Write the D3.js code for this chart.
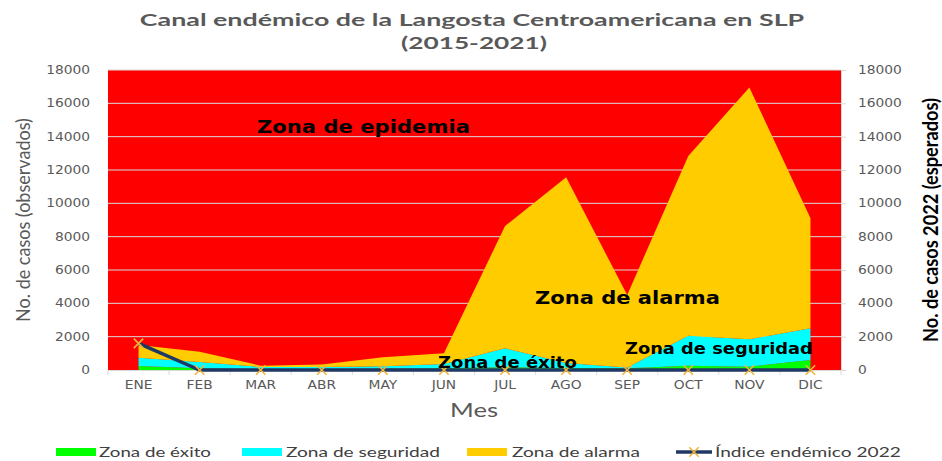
<!DOCTYPE html>
<html>
<head>
<meta charset="utf-8">
<script src="https://cdn.jsdelivr.net/npm/d3@7"></script>
<style>
  body { margin: 0; background: #fff; }
</style>
</head>
<body>
<script>

// datos del canal endemico (limite superior de cada zona, acumulado)
var meses      = ["ENE", "FEB", "MAR", "ABR", "MAY", "JUN", "JUL", "AGO", "SEP", "OCT", "NOV", "DIC"];
var exito      = [240, 110, 60, 60, 80, 100, 160, 120, 100, 250, 200, 600];
var seguridad  = [740, 480, 180, 180, 220, 360, 1300, 420, 150, 2050, 1850, 2500];
var alarma     = [1500, 1100, 260, 330, 760, 1000, 8640, 11560, 4500, 12840, 16950, 9100];
var indice2022 = [1600, 0, 0, 0, 0, 0, 0, 0, 0, 0, 0, 0];
var yTicks     = [0, 2000, 4000, 6000, 8000, 10000, 12000, 14000, 16000, 18000];

var width = 942, height = 461;
var plot = {left: 108, right: 841, top: 70, bottom: 370};

var svg = d3.select("body").append("svg")
    .attr("width", width)
    .attr("height", height);

var x = d3.scalePoint()
    .domain(meses)
    .range([plot.left, plot.right])
    .padding(0.5);

var y = d3.scaleLinear()
    .domain([0, 18000])
    .range([plot.bottom, plot.top]);

// stretch a text horizontally so that it covers w pixels
function fit(sel, w) {
  sel.each(function () {
    var n = this.getComputedTextLength();
    var t = d3.select(this).attr("data-t");
    d3.select(this).attr("transform", t + " scale(" + (w / n) + ",1)");
  });
}

function label(txt, cx, cy, opts) {
  var t = "translate(" + cx + "," + cy + ")" + (opts.rotate ? " rotate(" + opts.rotate + ")" : "");
  var el = svg.append("text")
      .attr("data-t", t)
      .attr("transform", t)
      .attr("text-anchor", opts.anchor || "middle")
      .style("font-family", opts.font || "Lato, 'Open Sans', sans-serif")
      .style("font-size", opts.size + "px")
      .style("font-weight", opts.bold ? "bold" : "normal")
      .style("fill", opts.color || "#595959")
      .text(txt);
  if (opts.w) fit(el, opts.w);
  return el;
}

// zona de epidemia = fondo del area de trazado
svg.append("rect")
    .attr("x", plot.left)
    .attr("y", plot.top)
    .attr("width", plot.right - plot.left)
    .attr("height", plot.bottom - plot.top)
    .attr("fill", "#ff0000");

svg.append("g").selectAll("line")
    .data(yTicks.slice(1))
    .enter().append("line")
    .attr("x1", plot.left).attr("x2", plot.right)
    .attr("y1", function (d) { return y(d); })
    .attr("y2", function (d) { return y(d); })
    .attr("stroke", "#d9d9d9")
    .attr("stroke-width", 1);

// bandas apiladas
var bandas = [
  {lo: null, hi: exito, color: "#00ff00"},
  {lo: exito, hi: seguridad, color: "#00ffff"},
  {lo: seguridad, hi: alarma, color: "#ffcc00"}
];

bandas.forEach(function (b) {
  var area = d3.area()
      .x(function (d, i) { return x(meses[i]); })
      .y0(function (d, i) { return y(b.lo ? b.lo[i] : 0); })
      .y1(function (d) { return y(d); });
  svg.append("path")
      .datum(b.hi)
      .attr("d", area)
      .attr("fill", b.color);
});

// eje x
var step = x.step();
svg.append("line")
    .attr("x1", plot.left).attr("x2", plot.right)
    .attr("y1", plot.bottom + 0.5).attr("y2", plot.bottom + 0.5)
    .attr("stroke", "#d9d9d9");

svg.append("g").selectAll("line")
    .data(d3.range(meses.length + 1))
    .enter().append("line")
    .attr("x1", function (k) { return plot.left + k * step; })
    .attr("x2", function (k) { return plot.left + k * step; })
    .attr("y1", plot.bottom).attr("y2", plot.bottom + 5)
    .attr("stroke", "#d9d9d9");

var tickFont = "'DejaVu Sans', Verdana, sans-serif";

svg.append("g").selectAll("text")
    .data(meses)
    .enter().append("text")
    .attr("transform", function (d) { return "translate(" + x(d) + ",389) scale(1.2,1)"; })
    .attr("text-anchor", "middle")
    .style("font-family", tickFont)
    .style("font-size", "11.5px")
    .style("fill", "#595959")
    .text(function (d) { return d; });

// eje y izquierdo
svg.append("g").selectAll("text")
    .data(yTicks)
    .enter().append("text")
    .attr("transform", function (d) { return "translate(90," + (y(d) + 4) + ") scale(1.2,1)"; })
    .attr("text-anchor", "end")
    .style("font-family", tickFont)
    .style("font-size", "11.5px")
    .style("fill", "#595959")
    .text(function (d) { return d; });

// eje y derecho
svg.append("line")
    .attr("x1", plot.right + 0.5).attr("x2", plot.right + 0.5)
    .attr("y1", plot.top).attr("y2", plot.bottom)
    .attr("stroke", "#d9d9d9");

svg.append("g").selectAll("line")
    .data(yTicks)
    .enter().append("line")
    .attr("x1", plot.right).attr("x2", plot.right + 5)
    .attr("y1", function (d) { return y(d) + 0.5; })
    .attr("y2", function (d) { return y(d) + 0.5; })
    .attr("stroke", "#d9d9d9");

svg.append("g").selectAll("text")
    .data(yTicks)
    .enter().append("text")
    .attr("transform", function (d) { return "translate(858," + (y(d) + 4) + ") scale(1.2,1)"; })
    .attr("text-anchor", "start")
    .style("font-family", tickFont)
    .style("font-size", "11.5px")
    .style("fill", "#595959")
    .text(function (d) { return d; });

// indice endemico 2022
var linea = d3.line()
    .x(function (d, i) { return x(meses[i]); })
    .y(function (d) { return y(d); });

svg.append("path")
    .datum(indice2022)
    .attr("d", linea)
    .attr("fill", "none")
    .attr("stroke", "#1f3864")
    .attr("stroke-width", 3.5);

var cruz = d3.symbol().type(d3.symbolX).size(60);

svg.append("g").selectAll("path")
    .data(indice2022)
    .enter().append("path")
    .attr("d", cruz)
    .attr("transform", function (d, i) { return "translate(" + x(meses[i]) + "," + y(d) + ")"; })
    .attr("fill", "none")
    .attr("stroke", "#f4b43a")
    .attr("stroke-width", 1.6);

// etiquetas de zonas
var zonaFont = "'DejaVu Sans', Verdana, sans-serif";
label("Zona de epidemia", 257, 133, {anchor: "start", font: zonaFont, size: 17.5, bold: true, color: "#000", w: 213});
label("Zona de alarma", 535, 304, {anchor: "start", font: zonaFont, size: 17.5, bold: true, color: "#000", w: 185});
label("Zona de seguridad", 625, 354, {anchor: "start", font: zonaFont, size: 15, bold: true, color: "#000", w: 188});
label("Zona de éxito", 438, 368, {anchor: "start", font: zonaFont, size: 15, bold: true, color: "#000", w: 139});

// titulos
label("Canal endémico de la Langosta Centroamericana en SLP", 472, 26, {size: 17.5, bold: true, w: 665});
label("(2015-2021)", 474, 49, {size: 17.5, bold: true, w: 146});
label("Mes", 474, 417, {size: 20, w: 48});
label("No. de casos (observados)", 30, 220, {size: 20, rotate: -90, w: 204});
label("No. de casos 2022 (esperados)", 938, 220, {size: 21, bold: true, rotate: -90, color: "#000", w: 244});

// leyenda
var leyenda = [
  {name: "Zona de éxito", color: "#00ff00", sx: 56, tx: 99, w: 112},
  {name: "Zona de seguridad", color: "#00ffff", sx: 242, tx: 286, w: 154},
  {name: "Zona de alarma", color: "#ffcc00", sx: 467, tx: 512, w: 128}
];

leyenda.forEach(function (l) {
  svg.append("rect")
      .attr("x", l.sx).attr("y", 448)
      .attr("width", 40).attr("height", 8)
      .attr("fill", l.color);
  label(l.name, l.tx, 457, {anchor: "start", size: 13.5, color: "#404040", w: l.w});
});

svg.append("line")
    .attr("x1", 676).attr("x2", 712)
    .attr("y1", 452).attr("y2", 452)
    .attr("stroke", "#1f3864")
    .attr("stroke-width", 3.5);
svg.append("path")
    .attr("d", cruz)
    .attr("transform", "translate(694,452)")
    .attr("fill", "none")
    .attr("stroke", "#f4b43a")
    .attr("stroke-width", 1.6);
label("Índice endémico 2022", 715, 457, {anchor: "start", size: 13.5, color: "#404040", w: 186});

</script>
</body>
</html>
